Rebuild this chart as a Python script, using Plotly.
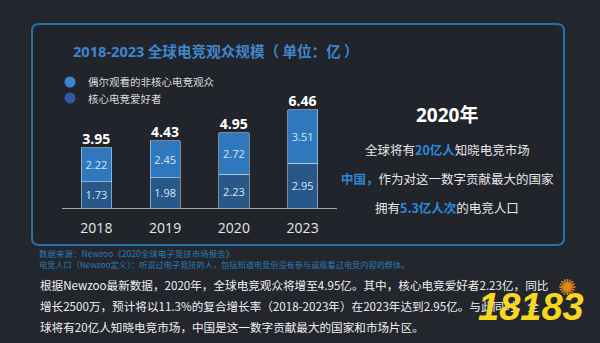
import plotly.graph_objects as go

W, H = 600, 343
years = ["2018", "2019", "2020", "2023"]
core = [1.73, 1.98, 2.23, 2.95]          # 核心电竞爱好者
casual = [2.22, 2.45, 2.72, 3.51]        # 偶尔观看的非核心电竞观众
totals = [3.95, 4.43, 4.95, 6.46]
series_names = ["偶尔观看的非核心电竞观众", "核心电竞爱好者"]

BG = "#24262e"
C_CASUAL = "#2f78bd"
C_CORE = "#28588a"
LEG_COLORS = ["#3a85cf", "#3358a6"]
FONT = "Open Sans, Noto Sans CJK SC, sans-serif"
CJK = "Noto Sans CJK SC, sans-serif"


def px(x):
    return x / W


def py(y):
    return 1 - y / H


fig = go.Figure()
fig.add_trace(go.Bar(x=years, y=core, name=series_names[1], marker_color=C_CORE,
                     text=[f"{v:.2f}" for v in core], textposition="inside",
                     insidetextanchor="middle", textangle=0,
                     textfont=dict(color="#d8e6f4", size=11, family=FONT),
                     showlegend=False, width=0.44))
fig.add_trace(go.Bar(x=years, y=casual, name=series_names[0], marker_color=C_CASUAL,
                     text=[f"{v:.2f}" for v in casual], textposition="inside",
                     insidetextanchor="middle", textangle=0,
                     textfont=dict(color="#d8e6f4", size=11, family=FONT),
                     showlegend=False, width=0.44))
fig.add_trace(go.Scatter(x=years, y=totals, mode="text", text=[f"{v:.2f}" for v in totals],
                         textposition="top center",
                         textfont=dict(color="#ffffff", size=14, family=FONT, weight="bold"),
                         showlegend=False, hoverinfo="skip"))

# rounded frame
x0, x1, y0, y1, r = 32, 564, 24, 245, 7
path = (f"M {px(x0+r)} {py(y0)} L {px(x1-r)} {py(y0)} Q {px(x1)} {py(y0)} {px(x1)} {py(y0+r)} "
        f"L {px(x1)} {py(y1-r)} Q {px(x1)} {py(y1)} {px(x1-r)} {py(y1)} "
        f"L {px(x0+r)} {py(y1)} Q {px(x0)} {py(y1)} {px(x0)} {py(y1-r)} "
        f"L {px(x0)} {py(y0+r)} Q {px(x0)} {py(y0)} {px(x0+r)} {py(y0)} Z")
fig.add_shape(type="path", path=path, xref="paper", yref="paper",
              line=dict(color="#2472a8", width=2), fillcolor="#22242c", layer="below")

ann = []


def text(x, y, s, size, color, anchor="left", bold=False, family=CJK):
    ann.append(dict(x=px(x), y=py(y), xref="paper", yref="paper", text=s, showarrow=False,
                    xanchor=anchor, yanchor="middle",
                    font=dict(size=size, color=color, family=family,
                              weight="bold" if bold else "normal")))


# legend (round markers)
for i, (name, col) in enumerate(zip(series_names, LEG_COLORS)):
    cy = 82 + 16 * i
    fig.add_shape(type="circle", xref="paper", yref="paper",
                  x0=px(64.5), x1=px(75.5), y0=py(cy + 5.5), y1=py(cy - 5.5),
                  fillcolor=col, line=dict(width=0))
    text(86, cy, name, 10.5, "#d8d8d8")

text(71, 50, "<span style='font-family:Open Sans'>2018-2023</span> 全球电竞观众规模（ 单位：亿 ）",
     14.6, "#3f86cc", bold=True, family=CJK)
text(447, 115, "2020年", 19, "#ffffff", "center", bold=True, family=FONT)
HL = "#2a8ad8"
text(447, 149, f"全球将有<b><span style='color:{HL}'>20亿人</span></b>知晓电竞市场", 12.5, "#e6e6e6", "center")
text(447, 178, f"<b><span style='color:{HL}'>中国，</span></b>作为对这一数字贡献最大的国家", 12.5, "#e6e6e6", "center")
text(447, 207, f"拥有<b><span style='color:{HL}'>5.3亿人次</span></b>的电竞人口", 12.5, "#e6e6e6", "center")
text(37, 253, "数据来源：Newzoo《2020全球电子竞技市场报告》", 8.5, "#2a7cb8")
text(37, 264, "电竞人口（Newzoo定义）：听说过电子竞技的人，包括知道电竞但没有参与或观看过电竞内容的群体。", 8.2, "#2a7cb8")
text(38, 285, "根据Newzoo最新数据，2020年，全球电竞观众将增至4.95亿。其中，核心电竞爱好者2.23亿，同比", 11.6, "#f0f0f0")
text(38, 306, "增长2500万，预计将以11.3%的复合增长率（2018-2023年）在2023年达到2.95亿。与此同时，全", 11.6, "#f0f0f0")
text(38, 327, "球将有20亿人知晓电竞市场，中国是这一数字贡献最大的国家和市场片区。", 11.6, "#f0f0f0")
# watermark logo
ann.append(dict(x=px(567), y=py(287), xref="paper", yref="paper", text="✺", showarrow=False,
                xanchor="center", yanchor="middle",
                font=dict(size=22, color="#e08a1e", family="DejaVu Sans")))
ann.append(dict(x=px(531), y=py(307), xref="paper", yref="paper", text="<i>18183</i>", showarrow=False,
                xanchor="center", yanchor="middle", bgcolor="rgba(0,0,0,0)",
                font=dict(size=38, color="#f7d81e", family="Liberation Sans Narrow, Liberation Sans",
                          weight="bold")))

fig.update_layout(
    width=W, height=H, margin=dict(l=0, r=0, t=0, b=0),
    paper_bgcolor=BG, plot_bgcolor="rgba(0,0,0,0)",
    barmode="stack", bargap=0.56,
    annotations=ann,
    xaxis=dict(domain=[px(62), px(337)], range=[-0.5, 3.5], type="category",
               showline=True, linecolor="#a9a9a9", linewidth=1, showgrid=False,
               ticks="", tickfont=dict(size=14, color="#e8e8e8", family=FONT),
               ticklabelstandoff=7, fixedrange=True),
    yaxis=dict(domain=[py(208), py(86.4)], range=[0, 8], visible=False, fixedrange=True),
    showlegend=False,
)

fig.write_html("out.html")
